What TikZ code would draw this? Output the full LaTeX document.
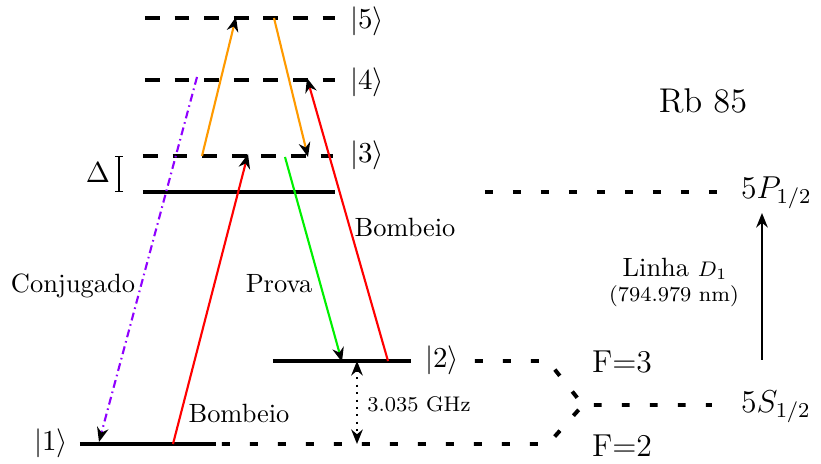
\documentclass[tikz,border=0pt]{standalone}
\usepackage{amsmath}
\usepackage{fontspec}
\usepackage{tikz}
\usetikzlibrary{arrows.meta}
\definecolor{laranja}{HTML}{FF9A00}
\definecolor{roxo}{HTML}{8F00FF}
\definecolor{verde}{HTML}{00F000}

\begin{document}
\begin{tikzpicture}[
    x=0.0133cm, y=-0.0133cm,
    nivel/.style={line width=1.5pt},
    virtual/.style={line width=1.5pt, dash pattern=on 5.6pt off 5.6pt},
    hiperfina/.style={line width=1.5pt, dash pattern=on 3pt off 7.6pt},
    ponta/.tip={Stealth[length=5.5pt, width=4.4pt, inset=1.8pt, color=black]},
    seta/.style={-ponta, line width=0.8pt},
    ket/.style={anchor=west, inner sep=1pt, font=\fontsize{11}{13}\selectfont},
    rotulo/.style={inner sep=1pt}
]
\useasboundingbox (0,0) rectangle (821,464);

% niveis do sistema de quatro niveis
\draw[virtual] (145,18) -- (335,18);
\draw[virtual] (145,80) -- (335,80);
\draw[virtual] (143,156) -- (333,156);
\draw[nivel] (143,192) -- (335,192);
\draw[nivel] (273,361) -- (411,361);
\draw[nivel] (80,444) -- (216,444);

\node[ket] (k5) at (347,21) {$|5\rangle$};
\node[ket] (k4) at (347,82) {$|4\rangle$};
\node[ket] (k3) at (347,155) {$|3\rangle$};
\node[ket] (k2) at (422,360) {$|2\rangle$};
\node[ket] (k1) at (31,443) {$|1\rangle$};

% dessintonia
\coordinate (d1) at (119,156);
\coordinate (d2) at (119,192);
\draw[{Bar[width=3.2pt]}-{Bar[width=3.2pt]}, line width=0.5pt] (d1) -- (d2);
\node[rotulo, font=\fontsize{11}{13}\selectfont] (delta) at (98,173) {$\Delta$};

% pontos das transicoes
\coordinate (b1i) at (173,444);
\coordinate (b1f) at (248,154);
\coordinate (b2i) at (388,361);
\coordinate (b2f) at (307,78);
\coordinate (l1i) at (202,156);
\coordinate (l1f) at (236,17);
\coordinate (l2i) at (274,18);
\coordinate (l2f) at (308,157);
\coordinate (pi) at (285,157);
\coordinate (pf) at (342,362);
\coordinate (ci) at (197,77);
\coordinate (cf) at (99,442);
\coordinate (g2) at (357,361);
\coordinate (g1) at (357,444);

\draw[seta, red] (b1i) -- (b1f);
\draw[seta, red] (b2i) -- (b2f);
\draw[seta, laranja] (l1i) -- (l1f);
\draw[seta, laranja] (l2i) -- (l2f);
\draw[seta, verde] (pi) -- (pf);
\draw[seta, roxo, dash pattern=on 3pt off 1.5pt on 0.6pt off 1.5pt] (ci) -- (cf);
\draw[ponta-ponta, line width=0.8pt, dotted] (g2) -- (g1);

\node[rotulo] (bomb1) at (239,413) {Bombeio};
\node[rotulo] (bomb2) at (405,227) {Bombeio};
\node[rotulo] (prova) at (279,284) {Prova};
\node[rotulo] (conj) at (73,286) {Conjugado};
\node[rotulo, font=\footnotesize] (ghz) at (419,404) {3.035 GHz};

% estrutura hiperfina
\coordinate (h2a) at (475,361);
\coordinate (h2b) at (548,361);
\coordinate (h1a) at (222,444);
\coordinate (h1b) at (548,444);
\coordinate (hs) at (583,405);
\coordinate (hse) at (712,405);
\coordinate (hpa) at (485,192);
\coordinate (hpb) at (725,192);
\draw[hiperfina] (h2a) -- (h2b) -- (hs) -- (hse);
\draw[hiperfina] (h1a) -- (h1b) -- (hs);
\draw[hiperfina] (hpa) -- (hpb);

\node[rotulo, font=\large] (f3) at (622,362) {F=3};
\node[rotulo, font=\large] (f2) at (622,446) {F=2};
\node[ket, font=\large] (s12) at (738,407) {$5S_{1/2}$};
\node[ket, font=\large] (p12) at (738,193) {$5P_{1/2}$};
\coordinate (la) at (762,360);
\coordinate (lt) at (762,213);
\draw[seta] (la) -- (lt);

\node[rotulo] (linha) at (675,269) {Linha {\footnotesize$D_1$}};
\node[rotulo, font=\footnotesize] (onda) at (674,296) {(794.979 nm)};
\node[rotulo, font=\fontsize{13}{15}\selectfont] (rb) at (703,101) {Rb 85};
\end{tikzpicture}
\end{document}
